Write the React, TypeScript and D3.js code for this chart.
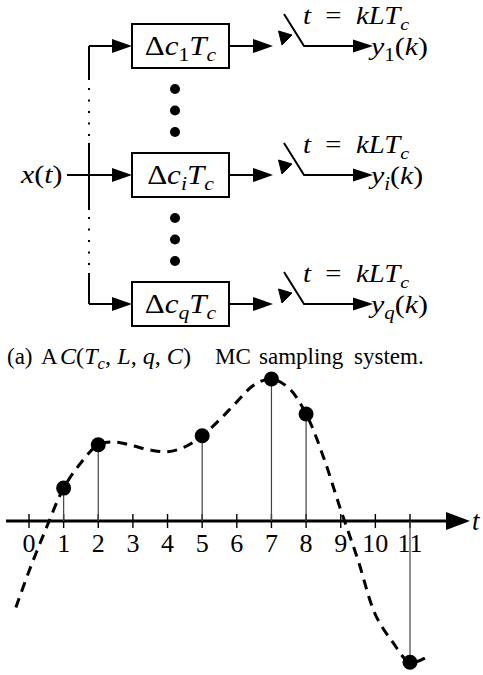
import React from "react";
import * as d3 from "d3";

// block diagram branches (subscript of each delay)
const branches = ["1", "i", "q"];

// sampled points of x(t)
const sampleTimes = [1, 2, 5, 7, 8, 11];
const sampleValues = [0.95, 2.2, 2.46, 4.1, 3.09, -4.08];

// the dashed continuous signal
const curveT = [-0.38, 0, 0.5, 1, 1.5, 2, 2.5, 3, 3.5, 4, 4.5, 5, 5.5, 6, 6.5, 7, 7.5, 8, 8.5, 9, 9.5, 10, 10.5, 11, 11.43];
const curveV = [-2.5, -1.45, -0.2, 0.95, 1.68, 2.2, 2.28, 2.17, 2.05, 2.0, 2.14, 2.46, 2.92, 3.44, 3.93, 4.1, 3.84, 3.09, 1.85, 0.32, -1.13, -2.7, -3.5, -4.08, -3.96];

const tickLabels = ["0", "1", "2", "3", "4", "5", "6", "7", "8", "9", "10", "11"];

const SERIF = "Liberation Serif, DejaVu Serif, serif";

type Kind = "r" | "i" | "s" | "si";
type Part = [string, Kind];

// small TeX-like text: italic letters, subscripts; sx widens the glyphs a bit like CM
function MathText({ x, y, size, parts, anchor = "start", sx = 1.15 }: { x: number; y: number; size: number; parts: Part[]; anchor?: string; sx?: number }) {
  let shift = 0;
  return (
    <text transform={`translate(${x},${y}) scale(${sx},1)`} fontSize={size} fontFamily={SERIF} textAnchor={anchor} fill="#000">
      {parts.map(([s, k], j) => {
        const sub = k === "s" || k === "si";
        const target = sub ? size * 0.22 : 0;
        const dy = target - shift;
        shift = target;
        return (
          <tspan key={j} dy={dy} fontStyle={k === "i" || k === "si" ? "italic" : "normal"} fontSize={sub ? size * 0.7 : size}>
            {s}
          </tspan>
        );
      })}
    </text>
  );
}

// filled arrowhead pointing right with tip at (x, y)
const arrowRight = (x: number, y: number, len = 20, half = 7) => `M${x},${y}L${x - len},${y - half}L${x - len},${y + half}Z`;

function BlockDiagram() {
  const by = d3.scalePoint<string>().domain(branches).range([46, 304]);
  const busX = 89;
  const boxL = 132;
  const boxR = 229;
  const boxH = 44;
  const y0 = by(branches[0])!;
  const y1 = by(branches[1])!;
  const y2 = by(branches[2])!;
  const dotFrac = [1 / 3, 1 / 2, 2 / 3];
  const gaps: [number, number][] = [[y0, y1], [y1, y2]];

  return (
    <g>
      {/* bus */}
      <g stroke="#000" strokeWidth={2} fill="none">
        <line x1={busX} y1={y0} x2={busX} y2={80} />
        <line x1={busX} y1={88} x2={busX} y2={143} strokeDasharray="2,9.5" />
        <line x1={busX} y1={143} x2={busX} y2={210} />
        <line x1={busX} y1={217} x2={busX} y2={273} strokeDasharray="2,9.5" />
        <line x1={busX} y1={273} x2={busX} y2={y2} />
        <line x1={67} y1={y1} x2={busX} y2={y1} />
      </g>
      <MathText x={21} y={y1 + 8} size={26} parts={[["x", "i"], ["(", "r"], ["t", "i"], [")", "r"]]} />

      {gaps.map(([a, b], gi) =>
        dotFrac.map((f, j) => <circle key={`${gi}-${j}`} cx={175} cy={a + (b - a) * f} r={5} fill="#000" />)
      )}

      {branches.map((b) => {
        const y = by(b)!;
        return (
          <g key={b}>
            <line x1={busX} y1={y} x2={boxL - 18} y2={y} stroke="#000" strokeWidth={2} />
            <path d={arrowRight(boxL, y)} fill="#000" />
            <rect x={boxL} y={y - boxH / 2} width={boxR - boxL} height={boxH} fill="#fff" stroke="#000" strokeWidth={2} />
            <MathText
              x={(boxL + boxR) / 2}
              y={y + 9}
              size={27}
              anchor="middle"
              parts={[["Δ", "r"], ["c", "i"], [b, b === "1" ? "s" : "si"], ["T", "i"], ["c", "si"]]}
            />
            <line x1={boxR} y1={y} x2={255} y2={y} stroke="#000" strokeWidth={2} />
            <path d={arrowRight(273, y)} fill="#000" />
            {/* switch with its curved actuation arrow */}
            <path d={`M284,${y - 32}L304,${y}L355,${y}`} fill="none" stroke="#000" strokeWidth={2} />
            <path d={arrowRight(373, y, 20, 6.5)} fill="#000" />
            <path d={`M306,${y - 24}Q291,${y - 24}286,${y - 13}`} fill="none" stroke="#000" strokeWidth={2.5} />
            <path d={`M282,${y - 1}L278.5,${y - 15}L292,${y - 11}Z`} fill="#000" stroke="#000" strokeWidth={1} strokeLinejoin="round" />
            <MathText x={303} y={y - 22} size={25} parts={[["t", "i"], ["\u2002=\u2002", "r"], ["kLT", "i"], ["c", "si"]]} />
            <MathText x={371} y={y + 9} size={26} parts={[["y", "i"], [b, b === "1" ? "s" : "si"], ["(", "r"], ["k", "i"], [")", "r"]]} />
          </g>
        );
      })}
    </g>
  );
}

function Caption() {
  const fs = 23;
  const by = 364;
  return (
    <g fontFamily={SERIF} fontSize={fs} fill="#000">
      <text x={7} y={by}>(a)</text>
      <text x={41} y={by}>A</text>
      <MathText
        x={60}
        y={by}
        size={fs}
        sx={1.05}
        parts={[
          ["C", "i"],
          ["(", "r"],
          ["T", "i"],
          ["c", "si"],
          [", ", "r"],
          ["L", "i"],
          [", ", "r"],
          ["q", "i"],
          [", ", "r"],
          ["C", "i"],
          [")", "r"],
        ]}
      />
      <text x={215} y={by}>MC</text>
      <text x={259} y={by}>sampling</text>
      <text x={354} y={by}>system.</text>
    </g>
  );
}

function SignalPlot() {
  const x = d3.scaleLinear().domain([0, 11]).range([29, 410]);
  const y = d3.scaleLinear().domain([0, 4.1]).range([521, 379]);
  const axisY = y(0);
  const pts = curveT.map((t, i) => [t, curveV[i]] as [number, number]);
  const line = d3
    .line<[number, number]>()
    .x((d) => x(d[0]))
    .y((d) => y(d[1]))
    .curve(d3.curveCatmullRom.alpha(0.5));

  return (
    <g>
      <path d={line(pts) ?? ""} fill="none" stroke="#000" strokeWidth={3} strokeDasharray="10,7" />
      <line x1={6} y1={axisY} x2={450} y2={axisY} stroke="#000" strokeWidth={3.2} />
      <path d={`M470,${axisY}L446,${axisY - 9}L446,${axisY + 9}Z`} fill="#000" />
      {tickLabels.map((lab, i) => (
        <g key={lab}>
          <line x1={x(i)} y1={axisY - 7} x2={x(i)} y2={axisY + 7} stroke="#000" strokeWidth={1.4} />
          <text x={x(i)} y={552} fontSize={26} fontFamily={SERIF} textAnchor="middle">
            {lab}
          </text>
        </g>
      ))}
      <text x={472} y={530} fontSize={27} fontFamily={SERIF} fontStyle="italic">
        t
      </text>
      {sampleTimes.map((t, i) => (
        <g key={t}>
          <line x1={x(t)} y1={axisY} x2={x(t)} y2={y(sampleValues[i])} stroke="#444" strokeWidth={1.2} />
          <circle cx={x(t)} cy={y(sampleValues[i])} r={7.5} fill="#000" />
        </g>
      ))}
    </g>
  );
}

export default function App() {
  return (
    <svg width={483} height={675} style={{ position: "absolute", left: 0, top: 0, background: "#fff" }}>
      <BlockDiagram />
      <Caption />
      <SignalPlot />
    </svg>
  );
}
